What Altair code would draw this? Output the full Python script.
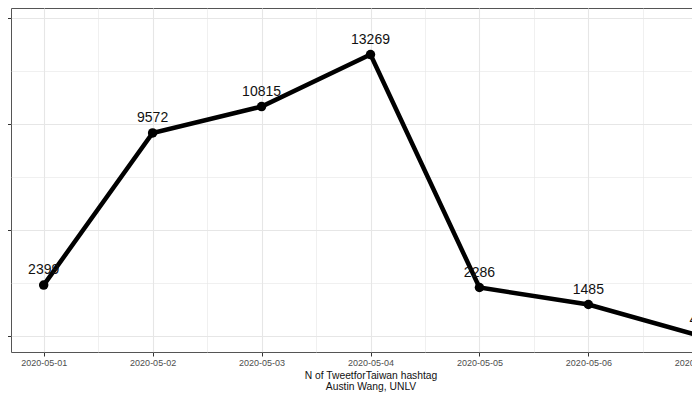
import altair as alt
import pandas as pd

# ---- data ----
dates = ["2020-05-01", "2020-05-02", "2020-05-03", "2020-05-04",
         "2020-05-05", "2020-05-06", "2020-05-07"]
counts = [2399, 9572, 10815, 13269, 2286, 1485, 43]
y_values = [0, 2500, 5000, 7500, 10000, 12500, 15000]
x_title = ["N of TweetforTaiwan hashtag", "Austin Wang, UNLV"]

df = pd.DataFrame({"date": dates, "n": counts})


def to_dt(ts):
    return alt.DateTime(year=ts.year, month=ts.month, date=ts.day,
                        hours=ts.hour, minutes=ts.minute, utc=True)


stamps = [pd.Timestamp(d) for d in dates]
half = pd.Timedelta(hours=12)
x_vals = [to_dt(s) for s in stamps] + [to_dt(s + half) for s in stamps[:-1]]
x_start = to_dt(stamps[0] - pd.Timedelta(hours=7, minutes=12))
x_end = to_dt(stamps[-1] + pd.Timedelta(hours=7, minutes=12))

FONT = "Liberation Sans"

x_axis = alt.Axis(
    values=x_vals,
    title=x_title,
    labelExpr="utchours(datum.value) == 0 ? utcFormat(datum.value, '%Y-%m-%d') : ''",
    tickOpacity={"condition": {"test": "utchours(datum.value) != 0", "value": 0}, "value": 1},
    gridWidth={"condition": {"test": "utchours(datum.value) != 0", "value": 0.6}, "value": 1.1},
    domain=False,
)
y_axis = alt.Axis(
    values=y_values,
    title=None,
    labelExpr="datum.value % 5000 == 0 ? datum.label : ''",
    format="d",
    tickOpacity={"condition": {"test": "datum.value % 5000 != 0", "value": 0}, "value": 1},
    gridWidth={"condition": {"test": "datum.value % 5000 != 0", "value": 0.6}, "value": 1.1},
    domain=False,
)

base = alt.Chart(df).encode(
    x=alt.X("date:T", scale=alt.Scale(type="utc", domain=[x_start, x_end]), axis=x_axis),
    y=alt.Y("n:Q", scale=alt.Scale(domain=[-754, 15462], nice=False, zero=False), axis=y_axis),
)

line = base.mark_line(color="black", strokeWidth=4.5)
pts = base.mark_circle(color="black", size=90, opacity=1)
labels = base.mark_text(dy=-15, fontSize=14, font=FONT, color="#111111").encode(
    text=alt.Text("n:Q", format="d")
)

chart = (
    alt.layer(line, pts, labels)
    .properties(
        width=719,
        height=344,
        autosize=alt.AutoSizeParams(type="none"),
        padding={"left": 3, "top": 0, "right": -38, "bottom": 42},
    )
    .configure_view(stroke="#555555", strokeWidth=1)
    .configure_axis(
        gridColor="#e6e6e6",
        labelFont=FONT,
        labelFontSize=9,
        labelColor="#4d4d4d",
        labelPadding=2,
        tickSize=4,
        tickColor="#333333",
        tickWidth=1,
        titleFont=FONT,
        titleFontSize=10.3,
        titleFontWeight="normal",
        titleColor="#111111",
        titlePadding=3,
        titleLineHeight=11,
    )
)

chart.save("out.html", embed_options={"renderer": "svg", "actions": False})
